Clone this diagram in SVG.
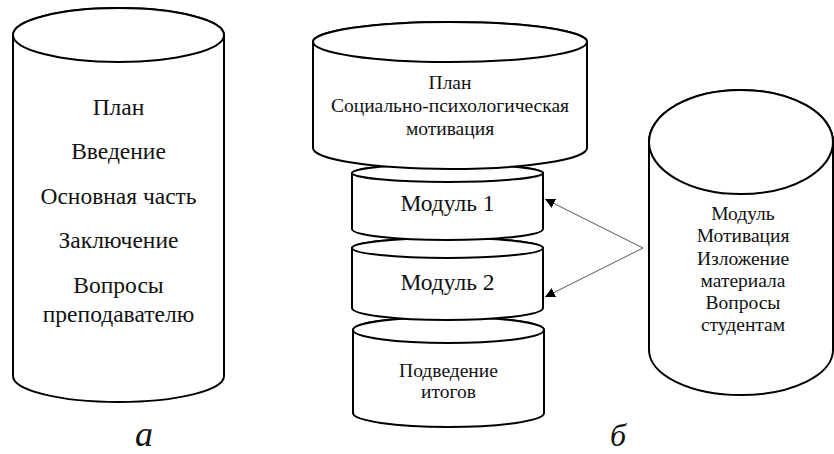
<svg xmlns="http://www.w3.org/2000/svg" width="834" height="454" viewBox="0 0 834 454">
<style>
.cyl{fill:#fff;stroke:#000;stroke-width:2}
.t{font-family:"Liberation Serif","Times New Roman",serif;fill:#111;text-anchor:middle}
.la{font-size:23.5px}
.lm{font-size:23.5px}
.ls{font-size:19.5px}
.lab{font-family:"Liberation Serif","Times New Roman",serif;font-style:italic;fill:#111;text-anchor:middle}
.conn{stroke:#555;stroke-width:1;fill:none}
</style>
<defs>
<marker id="ah" viewBox="0 0 10 10" refX="10" refY="5" markerWidth="10" markerHeight="10" markerUnits="userSpaceOnUse" orient="auto">
<path d="M0,0 L10,5 L0,10 Z" fill="#000"/>
</marker>
</defs>
<rect width="834" height="454" fill="#fff"/>

<g id="node-a">
<path class="cyl" d="M13,35 L13,376 A105.5,26 0 0 0 224,376 L224,35 A105.5,27 0 0 0 13,35 Z"/>
<ellipse class="cyl" cx="118.5" cy="35" rx="105.5" ry="27"/>
<text class="t la" x="118.5" y="115">План</text>
<text class="t la" x="118.5" y="159">Введение</text>
<text class="t la" x="118.5" y="204">Основная часть</text>
<text class="t la" x="118.5" y="248">Заключение</text>
<text class="t la" x="118.5" y="293">Вопросы</text>
<text class="t la" x="118.5" y="322">преподавателю</text>
</g>

<g id="node-itogi">
<path class="cyl" d="M353,330 L353,413 A95.5,14 0 0 0 544,413 L544,330 A95.5,13 0 0 0 353,330 Z"/>
<ellipse class="cyl" cx="448.5" cy="330" rx="95.5" ry="13"/>
<text class="t ls" x="448.5" y="377">Подведение</text>
<text class="t ls" x="448.5" y="398">итогов</text>
</g>

<g id="node-modul2">
<path class="cyl" d="M352,248 L352,308 A95.5,12 0 0 0 543,308 L543,248 A95.5,10 0 0 0 352,248 Z"/>
<ellipse class="cyl" cx="447.5" cy="248" rx="95.5" ry="10"/>
<text class="t lm" x="447.5" y="290">Модуль 2</text>
</g>

<g id="node-modul1">
<path class="cyl" d="M352,173 L352,229 A95.5,11 0 0 0 543,229 L543,173 A95.5,9 0 0 0 352,173 Z"/>
<ellipse class="cyl" cx="447.5" cy="173" rx="95.5" ry="9"/>
<text class="t lm" x="447.5" y="211">Модуль 1</text>
</g>

<g id="node-plan">
<path class="cyl" d="M313,42 L313,148 A137,21 0 0 0 587,148 L587,42 A137,20 0 0 0 313,42 Z"/>
<ellipse class="cyl" cx="450" cy="42" rx="137" ry="20"/>
<text class="t ls" x="450" y="89">План</text>
<text class="t ls" x="450" y="112">Социально-психологическая</text>
<text class="t ls" x="450" y="135">мотивация</text>
</g>

<g id="node-modul">
<path class="cyl" d="M649,142 L649,350 A92,45 0 0 0 833,350 L833,142 A92,52 0 0 0 649,142 Z"/>
<ellipse class="cyl" cx="741" cy="142" rx="92" ry="52"/>
<text class="t ls" x="743" y="220">Модуль</text>
<text class="t ls" x="743" y="242">Мотивация</text>
<text class="t ls" x="743" y="265">Изложение</text>
<text class="t ls" x="743" y="287">материала</text>
<text class="t ls" x="743" y="309">Вопросы</text>
<text class="t ls" x="743" y="331">студентам</text>
</g>

<g id="connectors">
<line class="conn" x1="643" y1="248" x2="545" y2="199" marker-end="url(#ah)"/>
<line class="conn" x1="643" y1="248" x2="545" y2="297" marker-end="url(#ah)"/>
</g>

<text class="lab" x="144" y="446" font-size="36">а</text>
<text class="lab" x="618" y="446" font-size="32">б</text>
</svg>
